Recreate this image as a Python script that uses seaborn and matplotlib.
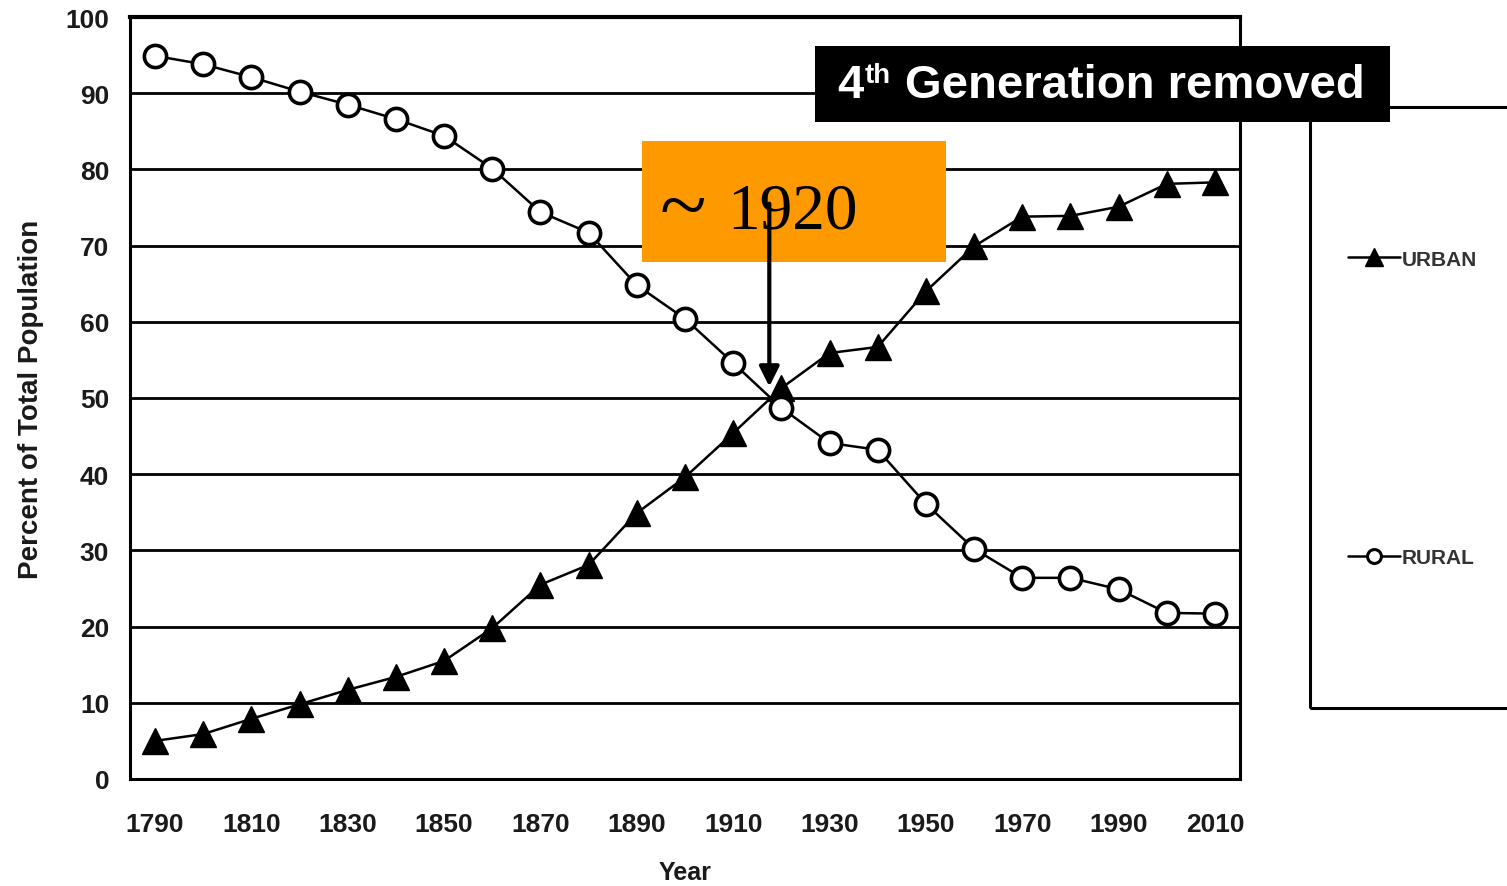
import pandas as pd
import matplotlib
matplotlib.use('Agg')
import matplotlib.pyplot as plt
import seaborn as sns
from matplotlib.lines import Line2D
from matplotlib.patches import Rectangle, FancyArrowPatch

# Dati (percentuale della popolazione totale)
years = list(range(1790, 2011, 10))
urban = [5.0, 5.9, 7.9, 9.8, 11.7, 13.4, 15.5, 19.8, 25.5, 28.1, 34.9, 39.6, 45.4, 51.3,
         55.9, 56.7, 64.0, 69.9, 73.8, 73.9, 75.1, 78.1, 78.3]
rural = [94.9, 93.8, 92.1, 90.2, 88.5, 86.6, 84.4, 80.1, 74.4, 71.7, 64.8, 60.4, 54.6, 48.7,
         44.1, 43.2, 36.1, 30.2, 26.4, 26.4, 24.9, 21.8, 21.7]
tick_years = list(range(1790, 2011, 20))

df = pd.DataFrame({'Year': years * 2,
                   'Percent': urban + rural,
                   'Area': ['URBAN'] * len(years) + ['RURAL'] * len(years)})

sns.set_style('white')
plt.rcParams['font.family'] = ['Liberation Sans', 'DejaVu Sans']

fig = plt.figure(figsize=(15.07, 8.87), dpi=100)
W, H = 1507, 887
ax = fig.add_axes([130 / W, 1 - 780 / H, 1110 / W, 762 / H])

# linee orizzontali della griglia
ax.yaxis.grid(True, color='black', linewidth=2.0)
ax.set_axisbelow(True)

sns.lineplot(data=df[df['Area'] == 'URBAN'], x='Year', y='Percent', ax=ax,
             color='black', linewidth=1.8, marker='^', markersize=19,
             markerfacecolor='black', markeredgecolor='black', markeredgewidth=1,
             legend=False, zorder=3)
sns.lineplot(data=df[df['Area'] == 'RURAL'], x='Year', y='Percent', ax=ax,
             color='black', linewidth=1.8, marker='o', markersize=16,
             markerfacecolor='white', markeredgecolor='black', markeredgewidth=2.6,
             legend=False, zorder=3)

ax.set_xlim(1784.8, 2015.2)
ax.set_ylim(0, 100)
ax.set_yticks(range(0, 101, 10))
ax.set_xticks(tick_years)
ax.tick_params(axis='y', length=7, width=2, color='black', labelsize=19, pad=8)
ax.tick_params(axis='x', length=0, labelsize=19, pad=24)
for lab in ax.get_xticklabels() + ax.get_yticklabels():
    lab.set_fontweight('bold')
    lab.set_color('#1a1a1a')

for side in ['left', 'right', 'top', 'bottom']:
    ax.spines[side].set_visible(True)
    ax.spines[side].set_color('black')
    ax.spines[side].set_linewidth(2.2)
ax.spines['top'].set_linewidth(3)

ax.set_xlabel('Year', fontsize=18, fontweight='bold', color='#1a1a1a', labelpad=17)
ax.set_ylabel('Percent of Total Population', fontsize=20, fontweight='bold',
              color='#1a1a1a', labelpad=15)

# riquadro della legenda
fig.patches.append(Rectangle((1310 / W, 1 - 709 / H), 220 / W, 601 / H,
                             transform=fig.transFigure, fill=False,
                             edgecolor='black', linewidth=2.2, zorder=1))
handles = [Line2D([], [], color='black', linewidth=1.8, marker='^', markersize=13,
                  markerfacecolor='black'),
           Line2D([], [], color='black', linewidth=1.8, marker='o', markersize=10,
                  markerfacecolor='white', markeredgewidth=2.2)]
fig.legend(handles, ['URBAN', 'RURAL'], loc='upper left',
           bbox_to_anchor=(1329 / W, 1 - 232 / H), frameon=False,
           labelspacing=13.4, handlelength=2.5, handletextpad=0.1,
           labelcolor='#333333', prop={'weight': 'bold', 'size': 15})

# box nero con titolo
fig.patches.append(Rectangle((815 / W, 1 - 123 / H), 575 / W, 76 / H,
                             transform=fig.transFigure, facecolor='black',
                             edgecolor='none', zorder=5))
fig.text(837 / W, 1 - 86 / H, '4', color='white', fontsize=34, fontweight='bold',
         va='center', ha='left', zorder=6)
fig.text(865 / W, 1 - 76 / H, 'th', color='white', fontsize=20, fontweight='bold',
         va='center', ha='left', zorder=6)
fig.text(905 / W, 1 - 86 / H, 'Generation removed', color='white', fontsize=34,
         fontweight='bold', va='center', ha='left', zorder=6)

# box arancione ~1920 con freccia
fig.patches.append(Rectangle((642 / W, 1 - 263 / H), 304 / W, 121 / H,
                             transform=fig.transFigure, facecolor='#FF9900',
                             edgecolor='none', zorder=5))
fig.text(660 / W, 1 - 212 / H, '~', color='black', fontsize=62,
         family=['Liberation Serif', 'DejaVu Serif'], va='center', ha='left', zorder=6)
fig.text(727 / W, 1 - 213 / H, '1920', color='black', fontsize=47,
         family=['Liberation Serif', 'DejaVu Serif'], va='center', ha='left', zorder=6)
arrow = FancyArrowPatch((1917.5, 75.5), (1917.5, 51.5), transform=ax.transData,
                        arrowstyle='-|>', color='black', lw=3, mutation_scale=30,
                        shrinkA=0, shrinkB=0, zorder=7)
fig.add_artist(arrow)

fig.savefig('out.png', dpi=100)
